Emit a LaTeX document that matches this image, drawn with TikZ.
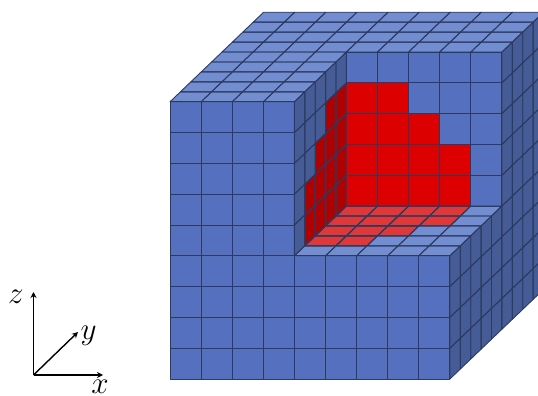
\documentclass[tikz,border=0pt]{standalone}
\usepackage{amsmath}
\usetikzlibrary{arrows.meta}
\definecolor{cubefront}{RGB}{84, 112, 190}
\definecolor{cubetop}{RGB}{114, 141, 208}
\definecolor{cubeside}{RGB}{70, 92, 150}
\definecolor{cubeline}{RGB}{44, 58, 98}
\definecolor{hotfront}{RGB}{221, 0, 0}
\definecolor{hottop}{RGB}{224, 56, 56}
\definecolor{hotside}{RGB}{176, 0, 0}
\tikzset{
  cellfill/.style={fill=#1},
  celledge/.style={draw=cubeline, line width=0.9pt, line join=round},
  axisline/.style={-{Stealth[length=6pt,width=6pt]}, line width=1.4pt},
  axislabel/.style={inner sep=0pt, scale=1.25, font=\fontsize{24}{24}\selectfont}
}
% one unit face, fill colour first, then the cell's corner
\newcommand{\xzface}[4]{\path[cell=#1] (#2,#3,#4) -- ++(1,0,0) -- ++(0,0,1) -- ++(-1,0,0) -- cycle;}
\newcommand{\xyface}[4]{\path[cell=#1] (#2,#3,#4) -- ++(1,0,0) -- ++(0,1,0) -- ++(-1,0,0) -- cycle;}
\newcommand{\yzface}[4]{\path[cell=#1] (#2,#3,#4) -- ++(0,1,0) -- ++(0,0,1) -- ++(0,-1,0) -- cycle;}
\newcommand{\allfaces}{
% Front faces
\foreach \i in {0,...,8} \foreach \k in {0,...,3} {\xzface{cubefront}{\i}{0}{\k}}
\foreach \i in {0,...,3} \foreach \k in {4,...,8} {\xzface{cubefront}{\i}{0}{\k}}
% Top faces
\foreach \i in {0,...,3} \foreach \j in {0,...,4} {\xyface{cubetop}{\i}{\j}{9}}
\foreach \i in {0,...,8} \foreach \j in {5,...,8} {\xyface{cubetop}{\i}{\j}{9}}
% Right side
\foreach \j in {0,...,8} \foreach \k in {0,...,3} {\yzface{cubeside}{9}{\j}{\k}}
\foreach \j in {5,...,8} \foreach \k in {4,...,8} {\yzface{cubeside}{9}{\j}{\k}}
% Notch
\foreach \i in {4,...,8} \foreach \k in {4,...,8} {\xzface{cubefront}{\i}{5}{\k}}
\foreach \i in {4,...,8} \foreach \j in {0,...,4} {\xyface{cubetop}{\i}{\j}{4}}
\foreach \j in {0,...,4} \foreach \k in {4,...,8} {\yzface{cubeside}{4}{\j}{\k}}
% Red back wall
\foreach \k/\n in {4/7,5/7,6/6,7/5} \foreach \i in {4,...,\n} {\xzface{hotfront}{\i}{5}{\k}}
% Red floor
\foreach \j/\n in {4/7,3/7,2/6,1/5} \foreach \i in {4,...,\n} {\xyface{hottop}{\i}{\j}{4}}
% Red side wall
\foreach \j/\n in {4/7,3/7,2/6,1/5} \foreach \k in {4,...,\n} {\yzface{hotside}{4}{\j}{\k}}
}

\begin{document}
\begin{tikzpicture}[x={(31.1pt,0pt)}, y={(10.4pt,9.95pt)}, z={(0pt,30.8pt)}]
\clip (0pt,0pt) rectangle (538pt,396pt);
% Fills first, edges over them
\begin{scope}[shift={(170pt,17pt)}, cell/.style={cellfill=#1}]
\allfaces
\end{scope}
\begin{scope}[shift={(170pt,17pt)}, cell/.style={celledge}]
\allfaces
\end{scope}
% Axes
\coordinate (orig) at (33.5pt,21pt);
\coordinate (xtip) at (103pt,21pt);
\coordinate (ytip) at (78pt,64pt);
\coordinate (ztip) at (33.5pt,104pt);
\draw[axisline] (orig) -- (xtip);
\draw[axisline] (orig) -- (ytip);
\draw[axisline] (orig) -- (ztip);
\node[axislabel] (xlabel) at (100pt,9pt) {$x$};
\node[axislabel] (ylabel) at (88.5pt,60pt) {$y$};
\node[axislabel] (zlabel) at (16pt,99pt) {$z$};
\end{tikzpicture}
\end{document}
